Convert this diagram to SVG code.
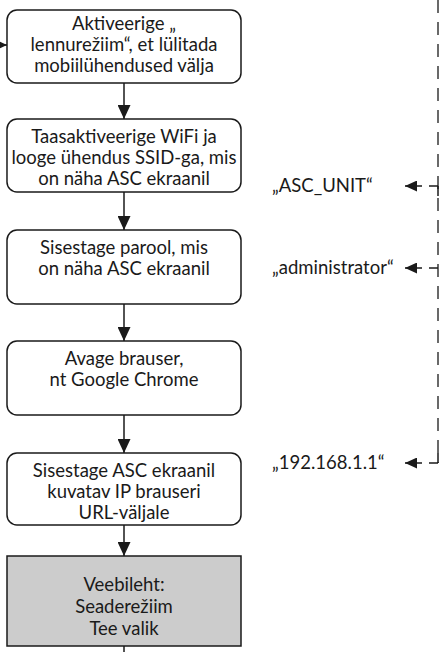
<svg xmlns="http://www.w3.org/2000/svg" width="446" height="652" viewBox="0 0 446 652">
<style>
.box{fill:#fff;stroke:#1a1a1a;stroke-width:1.5}
.gray{fill:#cccccc;stroke:#1a1a1a;stroke-width:1.5}
.t{font-family:Lato,"Open Sans","Liberation Sans",sans-serif;font-size:18.5px;fill:#1a1a1a;text-anchor:middle}
.l{font-family:Lato,"Open Sans","Liberation Sans",sans-serif;font-size:18.5px;fill:#1a1a1a}
.ln{fill:none;stroke:#1a1a1a;stroke-width:1.5}
.dash{fill:none;stroke:#1a1a1a;stroke-width:1.3;stroke-dasharray:13 9}
</style>
<defs>
<marker id="ah" markerWidth="14" markerHeight="13" refX="14" refY="6.5" orient="auto" markerUnits="userSpaceOnUse">
<path d="M0,0 L14,6.5 L0,13 Z" fill="#1a1a1a"/>
</marker>
<marker id="ahs" markerWidth="12" markerHeight="11" refX="12" refY="5.5" orient="auto" markerUnits="userSpaceOnUse">
<path d="M0,0 L12,5.5 L0,11 Z" fill="#1a1a1a"/>
</marker>
</defs>
<g id="connectors">
<line class="ln" x1="-2" y1="45" x2="7" y2="45" marker-end="url(#ahs)"/>
<line class="ln" x1="124" y1="83" x2="124" y2="119" marker-end="url(#ah)"/>
<line class="ln" x1="124" y1="192" x2="124" y2="230" marker-end="url(#ah)"/>
<line class="ln" x1="124" y1="304" x2="124" y2="341" marker-end="url(#ah)"/>
<line class="ln" x1="124" y1="415" x2="124" y2="453" marker-end="url(#ah)"/>
<line class="ln" x1="124" y1="525" x2="124" y2="556" marker-end="url(#ah)"/>
<line class="ln" x1="124" y1="646" x2="124" y2="652"/>
<path class="dash" d="M438,0 V463"/>
<line class="ln" x1="438" y1="186" x2="438" y2="196"/>
<line class="ln" x1="429" y1="186" x2="438" y2="186"/>
<line class="ln" x1="429" y1="268" x2="438" y2="268"/>
<line class="ln" x1="429" y1="463" x2="438" y2="463"/>
<line class="ln" x1="438" y1="453" x2="438" y2="463"/>
<line class="ln" x1="422" y1="186" x2="405" y2="186" marker-end="url(#ahs)"/>
<line class="ln" x1="422" y1="268" x2="405" y2="268" marker-end="url(#ahs)"/>
<line class="ln" x1="422" y1="463" x2="405" y2="463" marker-end="url(#ahs)"/>
</g>
<g id="n1">
<rect class="box" x="7" y="10" width="234" height="73" rx="10"/>
<text class="t" x="124" y="30">Aktiveerige „</text>
<text class="t" x="124" y="51">lennurežiim“, et lülitada</text>
<text class="t" x="124" y="72">mobiilühendused välja</text>
</g>
<g id="n2">
<rect class="box" x="7" y="119" width="234" height="73" rx="10"/>
<text class="t" x="124" y="143">Taasaktiveerige WiFi ja</text>
<text class="t" x="124" y="164">looge ühendus SSID-ga, mis</text>
<text class="t" x="124" y="185">on näha ASC ekraanil</text>
</g>
<g id="n3">
<rect class="box" x="7" y="230" width="234" height="74" rx="10"/>
<text class="t" x="124" y="254">Sisestage parool, mis</text>
<text class="t" x="124" y="275">on näha ASC ekraanil</text>
</g>
<g id="n4">
<rect class="box" x="7" y="341" width="234" height="74" rx="10"/>
<text class="t" x="124" y="365">Avage brauser,</text>
<text class="t" x="124" y="386">nt Google Chrome</text>
</g>
<g id="n5">
<rect class="box" x="7" y="453" width="234" height="72" rx="10"/>
<text class="t" x="124" y="477">Sisestage ASC ekraanil</text>
<text class="t" x="124" y="498">kuvatav IP brauseri</text>
<text class="t" x="124" y="519">URL-väljale</text>
</g>
<g id="n6">
<rect class="gray" x="7" y="556" width="234" height="90"/>
<text class="t" x="124" y="591">Veebileht:</text>
<text class="t" x="124" y="613">Seaderežiim</text>
<text class="t" x="124" y="635">Tee valik</text>
</g>
<g id="labels">
<text class="l" x="272" y="192">„ASC_UNIT“</text>
<text class="l" x="272" y="274">„administrator“</text>
<text class="l" x="272" y="469">„192.168.1.1“</text>
</g>
</svg>
